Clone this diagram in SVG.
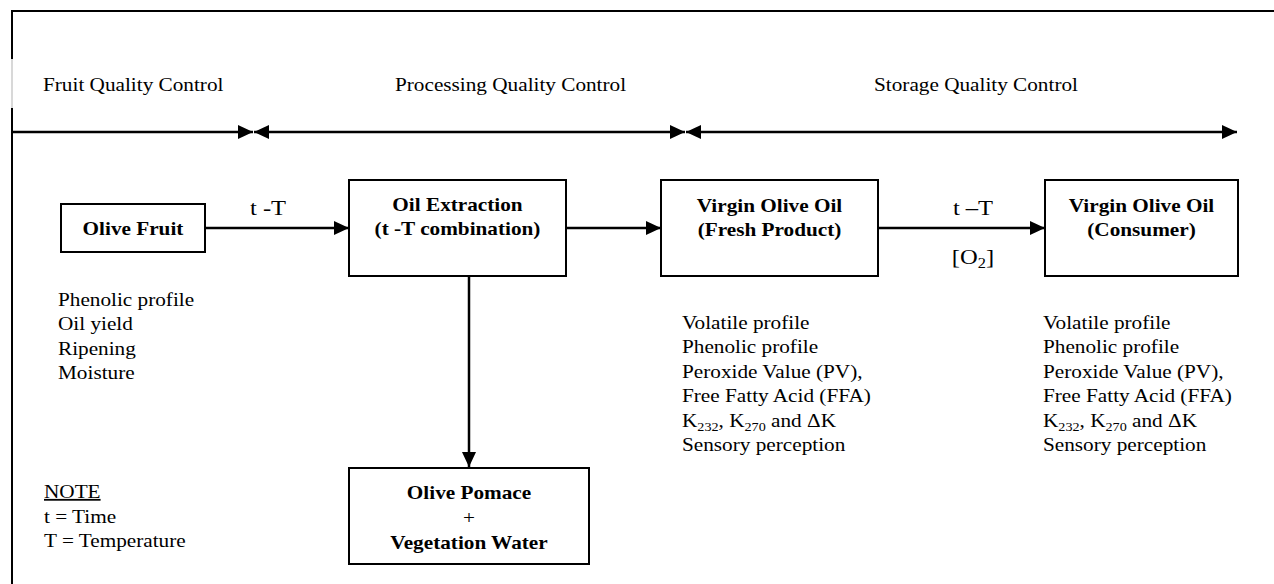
<svg xmlns="http://www.w3.org/2000/svg" width="1274" height="584" viewBox="0 0 1274 584">
<style>
.t{font-family:"Liberation Serif","Times New Roman",serif;font-size:18px;fill:#000}
.lg{font-size:21px}
.b{font-weight:bold}
.m{text-anchor:middle}
.box{fill:#fff;stroke:#000;stroke-width:2}
.ln{stroke:#000;stroke-width:2.5;fill:none}
.fr{stroke:#000;stroke-width:2;fill:none}
</style>
<defs>
<marker id="ah" markerUnits="userSpaceOnUse" markerWidth="16" markerHeight="16" refX="15" refY="7" orient="auto-start-reverse">
<path d="M0,0 L15,7 L0,14 Z" fill="#000"/>
</marker>
</defs>
<rect width="1274" height="584" fill="#fff"/>
<g id="frame">
<line class="fr" x1="11" y1="11" x2="1274" y2="11"/>
<line class="fr" x1="12" y1="10" x2="12" y2="59"/>
<line x1="12" y1="59" x2="12" y2="108" stroke="#d8d8d8" stroke-width="2"/>
<line class="fr" x1="12" y1="108" x2="12" y2="584"/>
</g>
<g id="timeline">
<line class="ln" x1="12" y1="132" x2="253" y2="132" marker-end="url(#ah)"/>
<line class="ln" x1="254" y1="132" x2="685" y2="132" marker-start="url(#ah)" marker-end="url(#ah)"/>
<line class="ln" x1="686" y1="132" x2="1237" y2="132" marker-start="url(#ah)" marker-end="url(#ah)"/>
<text class="t" transform="translate(43 91) scale(1.18 1)">Fruit Quality Control</text>
<text class="t" transform="translate(395 91) scale(1.18 1)">Processing Quality Control</text>
<text class="t" transform="translate(874 91) scale(1.18 1)">Storage Quality Control</text>
</g>
<g id="connectors">
<line class="ln" x1="205" y1="228" x2="349" y2="228" marker-end="url(#ah)"/>
<line class="ln" x1="566" y1="228" x2="661" y2="228" marker-end="url(#ah)"/>
<line class="ln" x1="878" y1="228" x2="1045" y2="228" marker-end="url(#ah)"/>
<line class="ln" x1="469" y1="276" x2="469" y2="467" marker-end="url(#ah)"/>
<text class="t lg m" transform="translate(268 215) scale(1.17 1)">t -T</text>
<text class="t lg m" transform="translate(973 215) scale(1.17 1)">t –T</text>
<text class="t lg m" transform="translate(973 264) scale(1.17 1)">[O<tspan font-size="14" dy="4">2</tspan><tspan dy="-4">]</tspan></text>
</g>
<g id="olive-fruit">
<rect class="box" x="61" y="204" width="144" height="48"/>
<text class="t b m" transform="translate(133 235) scale(1.18 1)">Olive Fruit</text>
</g>
<g id="oil-extraction">
<rect class="box" x="349" y="180" width="217" height="96"/>
<text class="t b m" transform="translate(457.5 0) scale(1.18 1)"><tspan x="0" y="211">Oil Extraction</tspan><tspan x="0" y="235">(t -T combination)</tspan></text>
</g>
<g id="voo-fresh">
<rect class="box" x="661" y="180" width="217" height="96"/>
<text class="t b m" transform="translate(769.5 0) scale(1.18 1)"><tspan x="0" y="212">Virgin Olive Oil</tspan><tspan x="0" y="236">(Fresh Product)</tspan></text>
</g>
<g id="voo-consumer">
<rect class="box" x="1045" y="180" width="193" height="96"/>
<text class="t b m" transform="translate(1141.5 0) scale(1.18 1)"><tspan x="0" y="212">Virgin Olive Oil</tspan><tspan x="0" y="236">(Consumer)</tspan></text>
</g>
<g id="pomace">
<rect class="box" x="349" y="468" width="240" height="96"/>
<text class="t b m" transform="translate(469 0) scale(1.18 1)"><tspan x="0" y="499">Olive Pomace</tspan><tspan x="0" y="524" font-weight="normal">+</tspan><tspan x="0" y="549">Vegetation Water</tspan></text>
</g>
<g id="fruit-params">
<text class="t" transform="translate(58 0) scale(1.18 1)"><tspan x="0" y="306">Phenolic profile</tspan><tspan x="0" y="330.5">Oil yield</tspan><tspan x="0" y="355">Ripening</tspan><tspan x="0" y="379.5">Moisture</tspan></text>
</g>
<g id="fresh-params">
<text class="t" transform="translate(682 0) scale(1.18 1)"><tspan x="0" y="329">Volatile profile</tspan><tspan x="0" y="353.5">Phenolic profile</tspan><tspan x="0" y="378">Peroxide Value (PV),</tspan><tspan x="0" y="402.5">Free Fatty Acid (FFA)</tspan><tspan x="0" y="427">K<tspan font-size="12" dy="4">232</tspan><tspan dy="-4">, K</tspan><tspan font-size="12" dy="4">270</tspan><tspan dy="-4"> and ΔK</tspan></tspan><tspan x="0" y="451.5">Sensory perception</tspan></text>
</g>
<g id="consumer-params">
<text class="t" transform="translate(1043 0) scale(1.18 1)"><tspan x="0" y="329">Volatile profile</tspan><tspan x="0" y="353.5">Phenolic profile</tspan><tspan x="0" y="378">Peroxide Value (PV),</tspan><tspan x="0" y="402.5">Free Fatty Acid (FFA)</tspan><tspan x="0" y="427">K<tspan font-size="12" dy="4">232</tspan><tspan dy="-4">, K</tspan><tspan font-size="12" dy="4">270</tspan><tspan dy="-4"> and ΔK</tspan></tspan><tspan x="0" y="451.5">Sensory perception</tspan></text>
</g>
<g id="note">
<text class="t" transform="translate(44 0) scale(1.18 1)"><tspan x="0" y="498" text-decoration="underline">NOTE</tspan><tspan x="0" y="523">t = Time</tspan><tspan x="0" y="547">T = Temperature</tspan></text>
</g>
</svg>
